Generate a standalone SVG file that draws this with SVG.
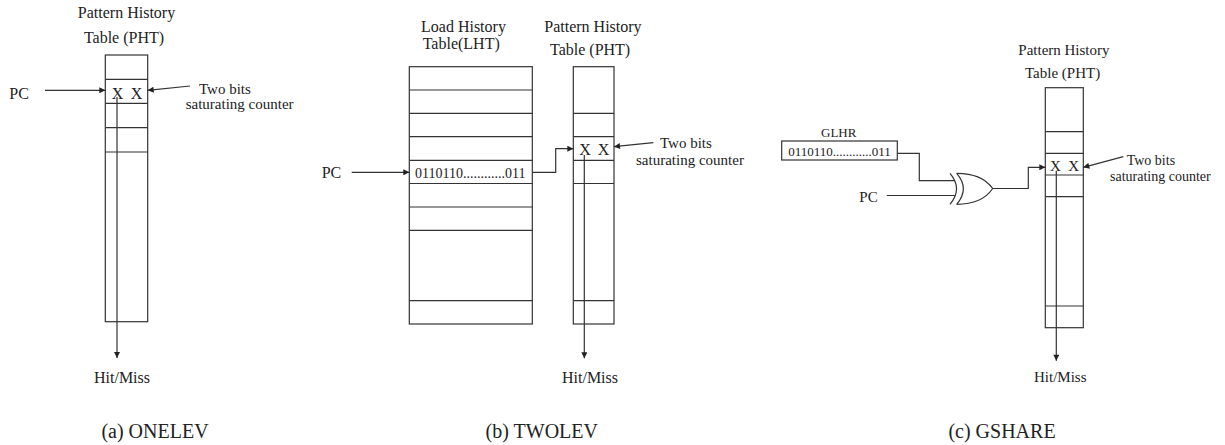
<svg xmlns="http://www.w3.org/2000/svg" width="1225" height="445" viewBox="0 0 1225 445">
<style>
text{font-family:"Liberation Serif","Times New Roman",serif;fill:#222}
.box{fill:none;stroke:#333;stroke-width:1.2}
.ln{fill:none;stroke:#333;stroke-width:1.2}
.t16{font-size:16px}
.t15{font-size:15px}
.t14{font-size:14px}
.t13{font-size:13px}
.cap{font-size:20px;text-anchor:middle}
.mid{text-anchor:middle}
</style>
<defs>
<marker id="ah" viewBox="0 0 10 10" refX="10" refY="5" markerWidth="10" markerHeight="6" markerUnits="userSpaceOnUse" orient="auto">
<path d="M0,0 L10,5 L0,10 z" fill="#222"/>
</marker>
</defs>
<rect width="1225" height="445" fill="#fff"/>

<!-- Panel (a) -->
<g id="a_pht">
<rect class="box" x="105.3" y="55" width="42.4" height="266.7"/>
<path class="ln" d="M105.3 79.3H147.7M105.3 103.3H147.7M105.3 127.7H147.7M105.3 152H147.7"/>
<text class="t16 mid" x="126.5" y="18">Pattern History</text>
<text class="t16 mid" x="124" y="43">Table (PHT)</text>
<text class="t16" x="111.7" y="99">X</text>
<text class="t16" x="130.7" y="99">X</text>
</g>
<g id="a_pc"><text class="t16" x="9.3" y="99">PC</text></g>
<g id="a_counter">
<text class="t15" x="199" y="94">Two bits</text>
<text class="t15" x="185.7" y="109.3">saturating counter</text>
</g>
<g id="a_out"><text class="t16 mid" x="122" y="383">Hit/Miss</text></g>
<g id="a_caption"><text class="cap" x="155" y="438">(a) ONELEV</text></g>

<!-- Panel (b) -->
<g id="b_lht">
<rect class="box" x="409.3" y="66.7" width="123" height="257.3"/>
<path class="ln" d="M409.3 90H532.3M409.3 113.3H532.3M409.3 136.7H532.3M409.3 160.3H532.3M409.3 183.5H532.3M409.3 207H532.3M409.3 230.3H532.3M409.3 300.7H532.3"/>
<text class="t16" x="421" y="31.7">Load History</text>
<text class="t16" x="422.7" y="49.3">Table(LHT)</text>
<text class="t14" x="415" y="178.3">0110110............011</text>
</g>
<g id="b_pht">
<rect class="box" x="573.3" y="66.7" width="40.7" height="257.3"/>
<path class="ln" d="M573.3 113.3H614M573.3 136.7H614M573.3 160.3H614M573.3 183.5H614M573.3 300.7H614"/>
<text class="t16" x="544.3" y="31.7">Pattern History</text>
<text class="t16" x="550" y="55">Table (PHT)</text>
<text class="t16" x="579.3" y="155.3">X</text>
<text class="t16" x="597.7" y="155.3">X</text>
</g>
<g id="b_pc"><text class="t16" x="321.7" y="178.3">PC</text></g>
<g id="b_counter">
<text class="t15" x="660" y="148.3">Two bits</text>
<text class="t15" x="636" y="165">saturating counter</text>
</g>
<g id="b_out"><text class="t16 mid" x="590" y="382.7">Hit/Miss</text></g>
<g id="b_caption"><text class="cap" x="541.8" y="438">(b) TWOLEV</text></g>

<!-- Panel (c) -->
<g id="c_glhr">
<rect class="box" x="781.7" y="141" width="115.6" height="19"/>
<text class="t13" x="821" y="136.7">GLHR</text>
<text class="t13" x="788.3" y="156">0110110............011</text>
</g>
<g id="c_pc"><text class="t15" x="859.3" y="201.7">PC</text></g>
<g id="c_xor">
<path class="ln" d="M950 173.3Q963 188.5 950 204.3"/>
<path class="ln" d="M956.7 173.3Q970 188.5 956.7 204.3"/>
<path class="ln" d="M956.7 173.3Q982 173.3 992.7 188.5Q982 204.3 956.7 204.3"/>
</g>
<g id="c_pht">
<rect class="box" x="1045.3" y="87.7" width="38" height="240"/>
<path class="ln" d="M1045.3 131.7H1083.3M1045.3 153.3H1083.3M1045.3 175H1083.3M1045.3 196.7H1083.3M1045.3 306H1083.3"/>
<text class="t15" x="1018.3" y="55">Pattern History</text>
<text class="t15" x="1025" y="77.5">Table (PHT)</text>
<text class="t15" x="1050" y="171">X</text>
<text class="t15" x="1068.3" y="171">X</text>
</g>
<g id="c_counter">
<text class="t14" x="1126.7" y="165">Two bits</text>
<text class="t14" x="1110" y="180.7">saturating counter</text>
</g>
<g id="c_out"><text class="t15 mid" x="1060.3" y="381.7">Hit/Miss</text></g>
<g id="c_caption"><text class="cap" x="1002" y="437.5">(c) GSHARE</text></g>

<!-- Connectors -->
<g id="connectors" class="ln">
<!-- (a) -->
<path class="ln" d="M45 90.3H105.3" marker-end="url(#ah)"/>
<path class="ln" d="M190 86L147.7 90.3" marker-end="url(#ah)"/>
<path class="ln" d="M117 97V358" marker-end="url(#ah)"/>
<!-- (b) -->
<path class="ln" d="M351.7 172.3H409.3" marker-end="url(#ah)"/>
<path class="ln" d="M532.3 172.3H555.7V148.7H573.3" marker-end="url(#ah)"/>
<path class="ln" d="M653.3 142.7L614 146.7" marker-end="url(#ah)"/>
<path class="ln" d="M584.3 155V358.3" marker-end="url(#ah)"/>
<!-- (c) -->
<path class="ln" d="M897.3 153.3H919.3V180.7H955"/>
<path class="ln" d="M886.7 195.5H955"/>
<path class="ln" d="M992.7 188.5H1028.3V167.3H1045.3" marker-end="url(#ah)"/>
<path class="ln" d="M1123.3 156.7L1083.3 167.3" marker-end="url(#ah)"/>
<path class="ln" d="M1056.3 171V360.7" marker-end="url(#ah)"/>
</g>
</svg>
